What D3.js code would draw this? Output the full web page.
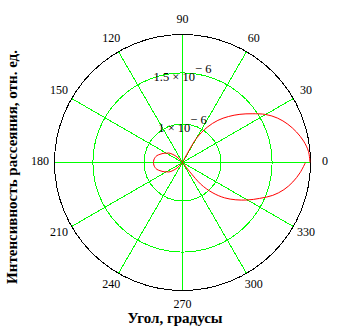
<!DOCTYPE html>
<html>
<head>
<meta charset="utf-8">
<script src="https://cdn.jsdelivr.net/npm/d3@7"></script>
<style>
body { margin: 0; background: #fff; }
svg { display: block; }
</style>
</head>
<body>
<script>
// angle, degrees
var angles = [0, 5, 10, 15, 20, 25, 30, 35, 40, 45, 50, 55, 60, 65, 70, 75, 80, 85, 90,
	95, 100, 105, 110, 115, 120, 125, 130, 135, 140, 145, 150, 155, 160, 165, 170, 175, 180,
	185, 190, 195, 200, 205, 210, 215, 220, 225, 230, 235, 240, 245, 250, 255, 260, 265, 270,
	275, 280, 285, 290, 295, 300, 305, 310, 315, 320, 325, 330, 335, 340, 345, 350, 355, 360];
// intensity, units of 1e-6
var intensity = [1.870, 1.860, 1.826, 1.777, 1.719, 1.650, 1.563, 1.455, 1.357, 1.260, 1.162, 1.045, 0.898, 0.60, 0.60, 0.60, 0.60, 0.60, 0.60,
	0.60, 0.60, 0.60, 0.60, 0.60, 0.60, 0.60, 0.645, 0.703, 0.747, 0.786, 0.806, 0.835, 0.859, 0.884, 0.898, 0.906, 0.908,
	0.906, 0.898, 0.884, 0.859, 0.835, 0.806, 0.786, 0.747, 0.703, 0.645, 0.60, 0.60, 0.60, 0.60, 0.60, 0.60, 0.60, 0.60,
	0.60, 0.60, 0.60, 0.60, 0.60, 0.60, 0.60, 0.898, 1.045, 1.162, 1.260, 1.357, 1.455, 1.563, 1.650, 1.719, 1.777, 1.826, 1.860, 1.870];

var angleTicks = [0, 30, 60, 90, 120, 150, 180, 210, 240, 270, 300, 330];
var radialTicks = [1e-6, 1.5e-6];
var radialLabels = ["1", "1.5"];
var radialExp = "\u2212 6";
var radialDomain = [0.625e-6, 1.875e-6];

var xTitle = "Угол, градусы";
var yTitle = "Интенсивность рассеяния, отн. ед.";

var width = 337, height = 331;
var cx = 182.5, cy = 162.5, R = 128;

var svg = d3.select("body").append("svg")
	.attr("width", width)
	.attr("height", height)
	.style("font-family", "'Liberation Serif', 'Times New Roman', serif");

var r = d3.scaleLinear().domain(radialDomain).range([0, R]).clamp(true);

var g = svg.append("g").attr("transform", "translate(" + cx + "," + cy + ")");

// spokes
g.selectAll("line.spoke")
	.data(angleTicks)
	.enter().append("line")
	.attr("class", "spoke")
	.attr("x1", 0).attr("y1", 0)
	.attr("x2", function(d) { return R * Math.cos(d * Math.PI / 180); })
	.attr("y2", function(d) { return -R * Math.sin(d * Math.PI / 180); })
	.attr("stroke", "#00ff00")
	.attr("stroke-width", 1)
	.attr("shape-rendering", "crispEdges");

// grid circles
g.selectAll("circle.grid")
	.data(radialTicks)
	.enter().append("circle")
	.attr("class", "grid")
	.attr("r", function(d) { return r(d); })
	.attr("fill", "none")
	.attr("stroke", "#00ff00")
	.attr("stroke-width", 1)
	.attr("shape-rendering", "crispEdges");

// outer frame
g.append("circle")
	.attr("r", R)
	.attr("fill", "none")
	.attr("stroke", "#000")
	.attr("stroke-width", 1)
	.attr("shape-rendering", "crispEdges");

// curve
var pts = angles.map(function(a, i) { return [a, intensity[i] * 1e-6]; });
var line = d3.lineRadial()
	.angle(function(d) { return Math.PI / 2 - d[0] * Math.PI / 180; })
	.radius(function(d) { return r(d[1]); })
	.curve(d3.curveCatmullRom.alpha(0.5));

g.append("path")
	.datum(pts)
	.attr("d", line)
	.attr("fill", "none")
	.attr("stroke", "#ff0000")
	.attr("stroke-width", 1);

// angle labels
g.selectAll("text.ang")
	.data(angleTicks)
	.enter().append("text")
	.attr("class", "ang")
	.attr("x", function(d) { return 142.5 * Math.cos(d * Math.PI / 180); })
	.attr("y", function(d) { return -142.5 * Math.sin(d * Math.PI / 180) - 1.5; })
	.attr("text-anchor", "middle")
	.attr("dominant-baseline", "central")
	.attr("font-size", 12)
	.text(function(d) { return d; });

// radial labels
var rl = g.selectAll("text.rad")
	.data(radialTicks)
	.enter().append("text")
	.attr("class", "rad")
	.attr("x", 0)
	.attr("y", function(d) { return -r(d) + 8; })
	.attr("text-anchor", "middle")
	.attr("font-size", 12.5);
rl.append("tspan").text(function(d, i) { return radialLabels[i] + " \u00d7 10"; });
rl.append("tspan").attr("dy", -8).text(radialExp);

// titles
svg.append("text")
	.attr("x", 175)
	.attr("y", 323)
	.attr("text-anchor", "middle")
	.attr("font-size", 15)
	.attr("font-weight", "bold")
	.text(xTitle);

svg.append("text")
	.attr("transform", "translate(17,167) rotate(-90)")
	.attr("text-anchor", "middle")
	.attr("font-size", 15)
	.attr("font-weight", "bold")
	.text(yTitle);
</script>
</body>
</html>
